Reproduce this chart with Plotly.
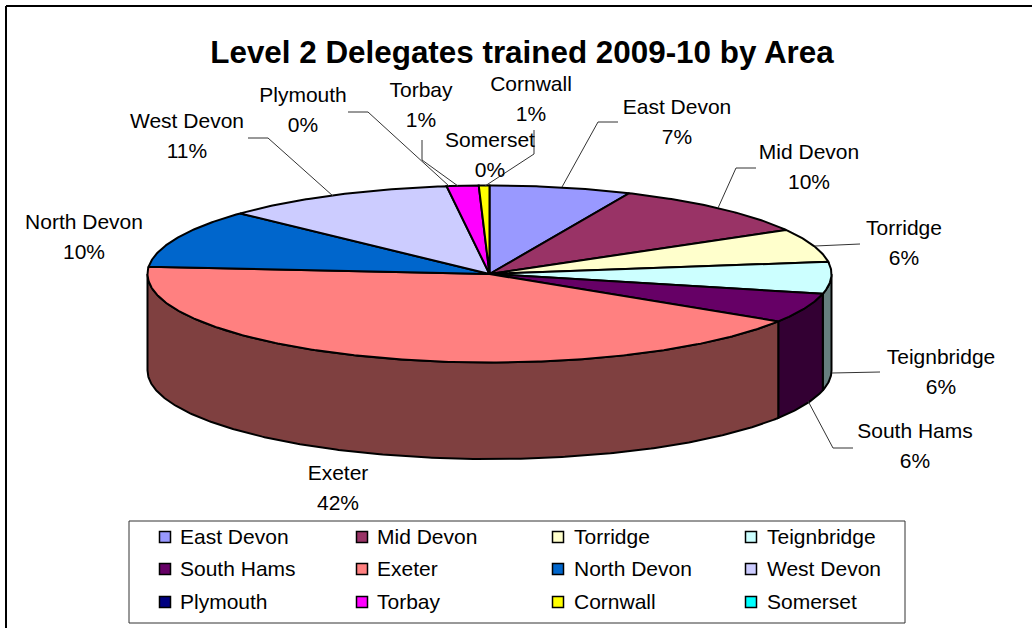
import numpy as np
import plotly.graph_objects as go

# ---- data ----
categories = ["East Devon", "Mid Devon", "Torridge", "Teignbridge", "South Hams", "Exeter",
              "North Devon", "West Devon", "Plymouth", "Torbay", "Cornwall", "Somerset"]
shares = [6.7, 10.0, 6.1, 5.8, 5.4, 42.3, 10.7, 11.0, 0.0, 1.5, 0.5, 0.0]
percent_labels = ["7%", "10%", "6%", "6%", "6%", "42%", "10%", "11%", "0%", "1%", "1%", "0%"]
title_text = "Level 2 Delegates trained 2009-10 by Area"

# ---- styles / layout ----
top_colors = ["#9999FF", "#993366", "#FFFFCC", "#CCFFFF", "#660066", "#FF8080",
              "#0066CC", "#CCCCFF", "#000080", "#FF00FF", "#FFFF00", "#00FFFF"]
CX, CY, RX, RY, DEPTH = 489.5, 274.0, 342.0, 88.5, 96.5
FONT = "Liberation Sans, Arial, sans-serif"
LABEL_SIZE = 21

label_xy = [(677, 109), (809, 154), (904, 230), (941, 359), (915, 433), (338, 475),
            (84, 224), (187, 123), (303, 97), (421, 92), (531, 86), (490, 142)]
LINE_GAP = 29.5
leaders = [
    [(562, 187), (598, 122), (618, 122)],
    [(718, 208), (736, 168), (756, 168)],
    [(815, 246), (860, 244)],
    [(832, 373), (880, 372)],
    [(808, 401), (833, 448), (853, 448)],
    [(333, 196), (268, 138), (248, 138)],
    [(449, 186), (368, 112), (348, 112)],
    [(458, 186), (422, 160), (422, 140)],
    [(485, 186), (534, 154), (534, 130)],
]
legend_cols_marker = [165, 362, 558, 751]
legend_cols_text = [180, 377, 574, 767]
legend_rows = [537, 569, 602]
LEGEND_TEXT_DY = 2


def darker(hex_color):
    r, g, b = (int(hex_color[i:i + 2], 16) for i in (1, 3, 5))
    return f"rgb({r // 2},{g // 2},{b // 2})"


def arc(a0, a1, dy=0.0):
    n = max(2, int(abs(a1 - a0) * 2) + 2)
    t = np.radians(np.linspace(a0, a1, n))
    return CX + RX * np.sin(t), CY - RY * np.cos(t) + dy


fig = go.Figure()
edges = np.concatenate([[0.0], np.cumsum(shares)]) / sum(shares) * 360.0

# side walls (only the part of the rim that faces the viewer)
for i, color in enumerate(top_colors):
    a0, a1 = max(edges[i], 90.0), min(edges[i + 1], 270.0)
    if a1 <= a0:
        continue
    xt, yt = arc(a0, a1)
    xb, yb = arc(a1, a0, DEPTH)
    fig.add_trace(go.Scatter(x=np.r_[xt, xb, xt[0]], y=np.r_[yt, yb, yt[0]], mode="lines",
                             fill="toself", fillcolor=darker(color),
                             line=dict(color="black", width=2), hoverinfo="skip"))

# top faces
for i, color in enumerate(top_colors):
    if shares[i] <= 0:
        continue
    xt, yt = arc(edges[i], edges[i + 1])
    fig.add_trace(go.Scatter(x=np.r_[CX, xt, CX], y=np.r_[CY, yt, CY], mode="lines",
                             fill="toself", fillcolor=color,
                             line=dict(color="black", width=2), hoverinfo="skip"))

# leader lines
for pts in leaders:
    fig.add_trace(go.Scatter(x=[p[0] for p in pts], y=[p[1] for p in pts], mode="lines",
                             line=dict(color="#333333", width=1), hoverinfo="skip"))

# slice labels
tx, ty, tt = [], [], []
for name, pct, (x, y) in zip(categories, percent_labels, label_xy):
    tx += [x, x]
    ty += [y, y + LINE_GAP]
    tt += [name, pct]
fig.add_trace(go.Scatter(x=tx, y=ty, text=tt, mode="text", textposition="middle center",
                         textfont=dict(family=FONT, size=LABEL_SIZE, color="black"),
                         hoverinfo="skip"))

# legend grid
for i, name in enumerate(categories):
    r, c = i // 4, i % 4
    fig.add_trace(go.Scatter(x=[legend_cols_marker[c]], y=[legend_rows[r]], mode="markers",
                             marker=dict(symbol="square", size=11, color=top_colors[i],
                                         line=dict(color="black", width=1.5)),
                             hoverinfo="skip"))
    fig.add_trace(go.Scatter(x=[legend_cols_text[c]], y=[legend_rows[r] + LEGEND_TEXT_DY],
                             text=[name], mode="text", textposition="middle right",
                             textfont=dict(family=FONT, size=LABEL_SIZE, color="black"),
                             hoverinfo="skip"))

fig.update_layout(
    width=1032, height=628, autosize=False, showlegend=False,
    margin=dict(l=0, r=0, t=0, b=0),
    paper_bgcolor="white", plot_bgcolor="white",
    title=dict(text=f"<b>{title_text}</b>", x=522 / 1032, xanchor="center",
               y=1 - 52 / 628, yanchor="middle",
               font=dict(family=FONT, size=31.4, color="black")),
    xaxis=dict(range=[0, 1032], visible=False, fixedrange=True),
    yaxis=dict(range=[628, 0], visible=False, fixedrange=True),
    shapes=[
        dict(type="line", xref="x", yref="y", x0=6, y0=6, x1=1032, y1=6,
             line=dict(color="black", width=2)),
        dict(type="line", xref="x", yref="y", x0=6, y0=6, x1=6, y1=628,
             line=dict(color="black", width=2)),
        dict(type="rect", xref="x", yref="y", x0=129, y0=521, x1=905, y1=623,
             line=dict(color="#333333", width=1), fillcolor="rgba(0,0,0,0)"),
    ],
)
fig.write_html("out.html", config={"displayModeBar": False},
               post_script="document.body.style.margin='0';document.body.style.overflow='hidden';")
